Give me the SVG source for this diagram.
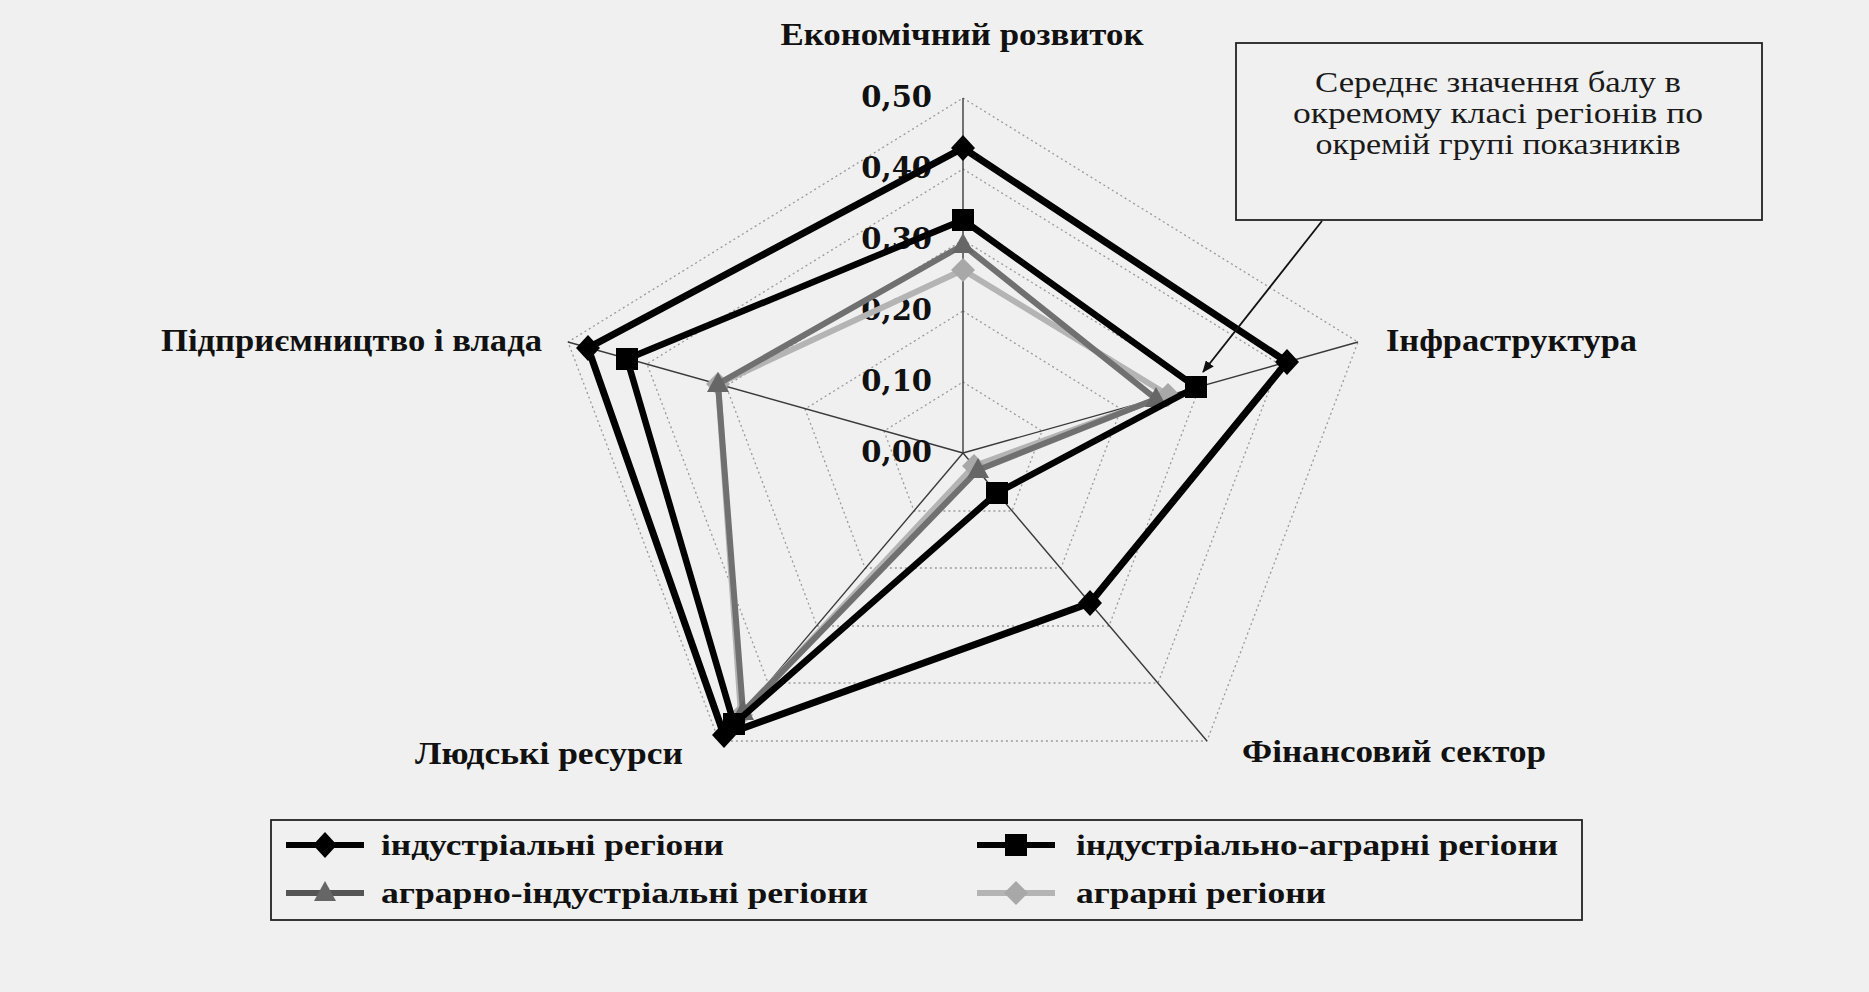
<svg xmlns="http://www.w3.org/2000/svg" width="1869" height="992" viewBox="0 0 1869 992">
  <style>
    .grid { fill: none; stroke: #9a9a9a; stroke-width: 1.3; stroke-dasharray: 2 3; }
    .axis { fill: none; stroke: #3a3a3a; stroke-width: 1.4; }
    .tick { font-family: "DejaVu Serif", "Liberation Serif", serif; font-weight: bold; font-size: 29px; fill: #111; text-anchor: end; }
    .lab { font-family: "Liberation Serif", "Times New Roman", serif; font-weight: bold; font-size: 31px; fill: #111; }
    .note { font-family: "Liberation Serif", "Times New Roman", serif; font-size: 30px; fill: #1a1a1a; text-anchor: middle; }
    .leg { font-family: "Liberation Serif", "Times New Roman", serif; font-weight: bold; font-size: 30px; fill: #111; }
    .s-ind { fill: none; stroke: #000; stroke-width: 7; stroke-linejoin: miter; }
    .s-ia { fill: none; stroke: #000; stroke-width: 6.5; stroke-linejoin: miter; }
    .s-ai { fill: none; stroke: #707070; stroke-width: 6; stroke-linejoin: miter; }
    .s-a { fill: none; stroke: #b4b4b4; stroke-width: 6; stroke-linejoin: miter; }
    .frame { fill: none; stroke: #222; stroke-width: 1.8; }
  </style>
  <defs>
    <path id="mk-diamond" d="M0,-13 L12,0 L0,13 L-12,0 Z" fill="#000"/>
    <rect id="mk-square" x="-11" y="-11" width="22" height="22" fill="#000"/>
    <path id="mk-tri" d="M0,-12 L11,8 L-11,8 Z" fill="#666"/>
    <path id="mk-gdiamond" d="M0,-12 L12,0 L0,12 L-12,0 Z" fill="#a8a8a8"/>
    <marker id="arrowhead" viewBox="0 0 12 10" refX="11" refY="5" markerWidth="12" markerHeight="10" markerUnits="userSpaceOnUse" orient="auto">
      <path d="M0,0 L12,5 L0,10 Z" fill="#111"/>
    </marker>
  </defs>

  <rect width="1869" height="992" fill="#f0f0f0"/>

  <!-- radar grid: levels 0.1 .. 0.5, centre (963,453) -->
  <g id="grid">
    <polygon class="grid" points="963,382 1042,431 1012,511 914,511 884,431"/>
    <polygon class="grid" points="963,311 1121,409 1061,568 865,568 805,409"/>
    <polygon class="grid" points="963,240 1200,386 1109,626 817,626 726,386"/>
    <polygon class="grid" points="963,169 1279,364 1158,683 768,683 647,364"/>
    <polygon class="grid" points="963,98 1358,342 1207,741 719,741 568,342"/>
    <line class="axis" x1="963" y1="453" x2="963" y2="98" stroke="#666"/>
    <line class="axis" x1="963" y1="453" x2="1358" y2="342"/>
    <line class="axis" x1="963" y1="453" x2="1207" y2="741"/>
    <line class="axis" x1="963" y1="453" x2="719" y2="741"/>
    <line class="axis" x1="963" y1="453" x2="568" y2="342"/>
  </g>

  <g id="ticks">
    <text class="tick" x="932" y="462">0,00</text>
    <text class="tick" x="932" y="391">0,10</text>
    <text class="tick" x="932" y="320">0,20</text>
    <text class="tick" x="932" y="249">0,30</text>
    <text class="tick" x="932" y="178">0,40</text>
    <text class="tick" x="932" y="107">0,50</text>
  </g>

  <g id="axis-labels">
    <text class="lab" x="962" y="45" text-anchor="middle" textLength="363" lengthAdjust="spacingAndGlyphs">Економічний розвиток</text>
    <text class="lab" x="1386" y="351" textLength="251" lengthAdjust="spacingAndGlyphs">Інфраструктура</text>
    <text class="lab" x="1242" y="762" textLength="304" lengthAdjust="spacingAndGlyphs">Фінансовий сектор</text>
    <text class="lab" x="415" y="764" textLength="268" lengthAdjust="spacingAndGlyphs">Людські ресурси</text>
    <text class="lab" x="161" y="351" textLength="381" lengthAdjust="spacingAndGlyphs">Підприємництво і влада</text>
  </g>

  <!-- agrarian regions -->
  <g id="series-agrarian">
    <polygon class="s-a" points="963,270 1168,395 974,466 741,715 718,384"/>
    <use href="#mk-gdiamond" x="963" y="270"/>
    <use href="#mk-gdiamond" x="1168" y="395"/>
    <use href="#mk-gdiamond" x="974" y="466"/>
    <use href="#mk-gdiamond" x="741" y="715"/>
    <use href="#mk-gdiamond" x="718" y="384"/>
  </g>

  <!-- agrarian-industrial regions -->
  <g id="series-agr-ind">
    <polygon class="s-ai" points="963,245 1156,399 978,470 743,712 718,384"/>
    <use href="#mk-tri" x="963" y="245"/>
    <use href="#mk-tri" x="1156" y="399"/>
    <use href="#mk-tri" x="978" y="470"/>
    <use href="#mk-tri" x="743" y="712"/>
    <use href="#mk-tri" x="718" y="384"/>
  </g>

  <!-- industrial-agrarian regions -->
  <g id="series-ind-agr">
    <polygon class="s-ia" points="963,220 1196,387 997,493 734,724 627,359"/>
    <use href="#mk-square" x="963" y="220"/>
    <use href="#mk-square" x="1196" y="387"/>
    <use href="#mk-square" x="997" y="493"/>
    <use href="#mk-square" x="734" y="724"/>
    <use href="#mk-square" x="627" y="359"/>
  </g>

  <!-- industrial regions -->
  <g id="series-industrial">
    <polygon class="s-ind" points="963,148 1287,362 1090,603 724,735 588,348"/>
    <use href="#mk-diamond" x="963" y="148"/>
    <use href="#mk-diamond" x="1287" y="362"/>
    <use href="#mk-diamond" x="1090" y="603"/>
    <use href="#mk-diamond" x="724" y="735"/>
    <use href="#mk-diamond" x="588" y="348"/>
  </g>

  <!-- callout box -->
  <g id="callout">
    <rect class="frame" x="1236" y="43" width="526" height="177"/>
    <text class="note" x="1498" y="92" textLength="366" lengthAdjust="spacingAndGlyphs">Середнє значення балу в</text>
    <text class="note" x="1498" y="123" textLength="410" lengthAdjust="spacingAndGlyphs">окремому класі регіонів по</text>
    <text class="note" x="1498" y="154" textLength="365" lengthAdjust="spacingAndGlyphs">окремій групі показників</text>
  </g>

  <g id="connectors">
    <line x1="1322" y1="221" x2="1203" y2="372" stroke="#111" stroke-width="1.8" marker-end="url(#arrowhead)"/>
  </g>

  <!-- legend -->
  <g id="legend">
    <rect class="frame" x="271" y="820" width="1311" height="100"/>
    <g id="legend-industrial">
      <line x1="286" y1="845" x2="364" y2="845" stroke="#000" stroke-width="6"/>
      <use href="#mk-diamond" x="325" y="845"/>
      <text class="leg" x="381" y="855" textLength="343" lengthAdjust="spacingAndGlyphs">індустріальні регіони</text>
    </g>
    <g id="legend-ind-agr">
      <line x1="977" y1="845" x2="1055" y2="845" stroke="#000" stroke-width="6"/>
      <use href="#mk-square" x="1016" y="845"/>
      <text class="leg" x="1076" y="855" textLength="482" lengthAdjust="spacingAndGlyphs">індустріально-аграрні регіони</text>
    </g>
    <g id="legend-agr-ind">
      <line x1="286" y1="893" x2="364" y2="893" stroke="#555" stroke-width="6"/>
      <use href="#mk-tri" x="325" y="893"/>
      <text class="leg" x="381" y="903" textLength="487" lengthAdjust="spacingAndGlyphs">аграрно-індустріальні регіони</text>
    </g>
    <g id="legend-agrarian">
      <line x1="977" y1="893" x2="1055" y2="893" stroke="#b4b4b4" stroke-width="6"/>
      <use href="#mk-gdiamond" x="1016" y="893"/>
      <text class="leg" x="1076" y="903" textLength="250" lengthAdjust="spacingAndGlyphs">аграрні регіони</text>
    </g>
  </g>
</svg>
